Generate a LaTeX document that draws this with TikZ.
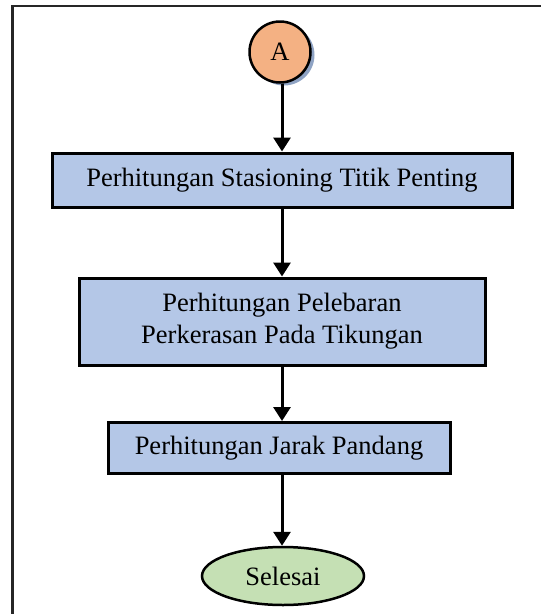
\documentclass[tikz,border=0pt]{standalone}
\usepackage{fontspec}
\setmainfont{Liberation Serif}
\usetikzlibrary{shapes.geometric,arrows.meta,shadows}
\definecolor{boxblue}{HTML}{B4C7E7}
\definecolor{endgreen}{HTML}{C5E0B4}
\definecolor{startorange}{HTML}{F4B183}
\definecolor{shadowblue}{HTML}{8FA3C4}
\begin{document}
\begin{tikzpicture}[x=1pt,y=-1pt,
  every node/.style={font=\fontsize{26.5}{32}\selectfont},
  procbox/.style={draw=black,line width=3pt,fill=boxblue,inner sep=0pt,align=center},
  conn/.style={line width=3pt,-{Triangle[length=14pt,width=17pt]}}]
\useasboundingbox (0,0) rectangle (541,614);
% frame
\draw[line width=2.5pt,black!85] (12.5,650) -- (12.5,6) -- (560,6);
% start
\fill[shadowblue] (284,55) circle (30.5);
\node[circle,draw=black,line width=2.5pt,fill=startorange,minimum size=61pt,inner sep=0pt] (A) at (280,52) {A};
\node[procbox,minimum width=460pt,minimum height=54pt] (b1) at (282,180) {Perhitungan Stasioning Titik Penting};
\node[procbox,minimum width=406pt,minimum height=87pt] (b2) at (282,321.5) {Perhitungan Pelebaran\\Perkerasan Pada Tikungan};
\node[procbox,minimum width=342pt,minimum height=51pt] (b3) at (279,448) {Perhitungan Jarak Pandang};
\node[ellipse,draw=black,line width=2.5pt,fill=endgreen,minimum width=162pt,minimum height=58pt,inner sep=0pt] (e) at (283,576) {Selesai};
\draw[conn] (A.south -| 282,0) -- (b1.north -| 282,0);
\draw[conn] (b1.south -| 282,0) -- (b2.north -| 282,0);
\draw[conn] (b2.south -| 282,0) -- (b3.north -| 282,0);
\draw[conn] (b3.south -| 282,0) -- (e.north -| 282,0);
\end{tikzpicture}
\end{document}
